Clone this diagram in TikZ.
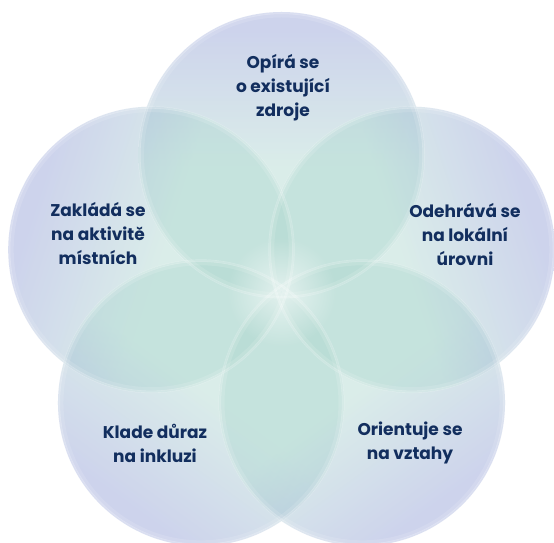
\documentclass[tikz,border=0pt]{standalone}
\usepackage{fontspec}
\setmainfont{Poppins}
\usetikzlibrary{fadings,calc}
\definecolor{lav}{RGB}{142,156,212}
\definecolor{mint}{RGB}{172,215,207}
\definecolor{navy}{RGB}{18,46,94}
\pgfdeclareverticalshading{petalsh}{100bp}{color(0bp)=(mint); color(25bp)=(mint); color(48bp)=(mint); color(72bp)=(lav); color(75bp)=(lav); color(100bp)=(lav)}
\tikzfading[name=glow, inner color=transparent!0, outer color=transparent!100]
\tikzset{
  petal/.style={fill opacity=0.44, shading=petalsh},
  lbl/.style={text=navy, font=\fontsize{17}{24}\selectfont\bfseries, align=center, inner sep=0pt},
}
\begin{document}
\begin{tikzpicture}[x=1pt,y=1pt]
\useasboundingbox (0,0) rectangle (554,543);
\fill[white] (0,0) rectangle (554,543);
\coordinate (O) at (281.5,251);
\foreach \a/\n in {90/top,162/ul,234/bl,306/br,18/ur}{
  \coordinate (\n) at ($(O)+(\a:137)$);
}
\foreach \a/\n in {90/top,162/ul,234/bl,306/br,18/ur}{
  \shade[petal, shading angle=\a-90] (\n) circle (143);
}
\foreach \n in {top,ul,bl,br,ur}{
  \draw[white, line width=4, opacity=0.12] (\n) circle (139.5);
  \draw[white, line width=2.5, opacity=0.28] (\n) circle (142.2);
}
\fill[white, path fading=glow, opacity=0.6] (O) circle (55);
\node[lbl] (t1) at (283,455) {Opírá se\\o existující\\zdroje};
\node[lbl] (t2) at (98,309) {Zakládá se\\na aktivitě\\místních};
\node[lbl] (t3) at (465,308) {Odehrává se\\na lokální\\úrovni};
\node[lbl] (t4) at (155,100) {Klade důraz\\na inkluzi};
\node[lbl] (t5) at (410,100) {Orientuje se\\na vztahy};
\end{tikzpicture}
\end{document}
